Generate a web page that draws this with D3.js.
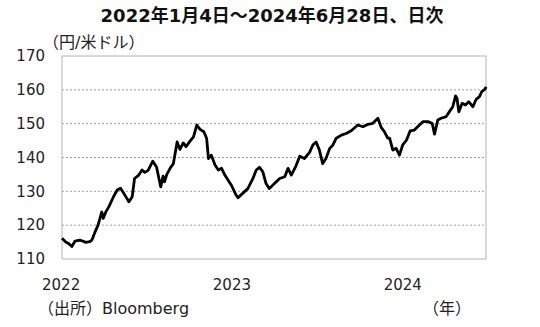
<!DOCTYPE html>
<html>
<head>
<meta charset="utf-8">
<script src="https://cdn.jsdelivr.net/npm/d3@7"></script>
<style>
  body { margin: 0; background: #fff; }
  svg text { font-family: "DejaVu Sans", "Noto Sans CJK JP", sans-serif; fill: #222; }
</style>
</head>
<body>
<svg id="chart" width="540" height="327"></svg>
<script>
// USD/JPY (roughly weekly)
const dates = [
  "2022-01-04", "2022-01-12", "2022-01-18", "2022-01-25", "2022-02-01", "2022-02-11",
  "2022-02-24", "2022-03-04", "2022-03-09", "2022-03-16", "2022-03-22", "2022-03-30",
  "2022-04-02", "2022-04-08", "2022-04-14", "2022-04-24", "2022-05-02", "2022-05-09",
  "2022-05-16", "2022-05-27", "2022-06-03", "2022-06-08", "2022-06-17", "2022-06-24",
  "2022-06-30", "2022-07-07", "2022-07-17", "2022-07-25", "2022-08-03", "2022-08-08",
  "2022-08-11", "2022-08-16", "2022-08-23", "2022-08-30", "2022-09-07", "2022-09-13",
  "2022-09-20", "2022-09-26", "2022-10-05", "2022-10-12", "2022-10-19", "2022-10-26",
  "2022-11-03", "2022-11-09", "2022-11-13", "2022-11-19", "2022-11-27", "2022-12-04",
  "2022-12-11", "2022-12-18", "2022-12-25", "2023-01-01", "2023-01-11", "2023-01-15",
  "2023-01-25", "2023-02-05", "2023-02-16", "2023-02-23", "2023-03-02", "2023-03-09",
  "2023-03-16", "2023-03-23", "2023-04-03", "2023-04-14", "2023-04-25", "2023-05-02",
  "2023-05-09", "2023-05-18", "2023-05-27", "2023-06-06", "2023-06-17", "2023-06-24",
  "2023-07-01", "2023-07-08", "2023-07-15", "2023-07-22", "2023-07-30", "2023-08-06",
  "2023-08-13", "2023-08-24", "2023-09-03", "2023-09-14", "2023-09-28", "2023-10-09",
  "2023-10-20", "2023-10-30", "2023-11-10", "2023-11-17", "2023-11-24", "2023-12-01",
  "2023-12-05", "2023-12-12", "2023-12-19", "2023-12-26", "2024-01-02", "2024-01-10",
  "2024-01-18", "2024-01-27", "2024-02-03", "2024-02-14", "2024-02-25", "2024-03-05",
  "2024-03-10", "2024-03-17", "2024-03-24", "2024-04-04", "2024-04-13", "2024-04-18",
  "2024-04-24", "2024-04-27", "2024-05-01", "2024-05-08", "2024-05-15", "2024-05-22",
  "2024-05-31", "2024-06-07", "2024-06-14", "2024-06-19", "2024-06-26", "2024-06-28"
];
const usdjpy = [
  116.1, 115.0, 114.6, 113.7, 115.3, 115.6,
  114.9, 115.1, 115.6, 118.1, 120.0, 123.9,
  122.0, 124.0, 125.4, 128.4, 130.4, 130.9,
  129.4, 126.9, 128.4, 133.8, 134.8, 136.3,
  135.6, 136.2, 138.9, 137.2, 131.3, 134.5,
  132.8, 135.0, 136.8, 138.2, 144.6, 142.4,
  144.3, 143.2, 144.9, 146.1, 149.6, 148.3,
  147.6, 145.7, 139.7, 140.7, 137.8, 136.3,
  136.8, 134.8, 133.3, 131.8, 128.9, 128.1,
  129.4, 130.8, 133.8, 136.3, 137.1, 135.8,
  132.3, 130.8, 132.3, 133.8, 134.3, 136.8,
  134.8, 137.2, 140.4, 139.7, 141.5, 143.7,
  144.6, 142.2, 138.2, 139.7, 142.7, 143.7,
  145.7, 146.6, 147.1, 147.9, 149.6, 149.1,
  149.8, 150.1, 151.6, 148.9, 147.6, 145.7,
  145.7, 142.2, 142.7, 140.7, 143.7, 145.1,
  147.9, 148.1, 149.1, 150.6, 150.6, 150.1,
  146.9, 151.1, 151.6, 152.1, 154.0, 155.0,
  158.2, 157.5, 153.5, 156.0, 155.5, 156.5,
  155.0, 157.2, 158.0, 159.5, 160.2, 160.9
];
const yTicks = [110, 120, 130, 140, 150, 160, 170];
const yearTicks = ["2022-01-01", "2023-01-01", "2024-01-01"];

const title = "2022年1月4日～2024年6月28日、日次";
const unitLabel = "（円/米ドル）";
const sourceLabel = "（出所）Bloomberg";
const yearLabel = "（年）";

const parse = d3.timeParse("%Y-%m-%d");
const data = dates.map((d, i) => ({date: parse(d), value: usdjpy[i]}));

const margin = {top: 56, right: 54, bottom: 68, left: 62};
const width = 540 - margin.left - margin.right;
const height = 327 - margin.top - margin.bottom;

const svg = d3.select("#chart");

svg.append("text")
  .attr("x", 272).attr("y", 22)
  .attr("text-anchor", "middle")
  .style("font-size", "18px").style("font-weight", "bold")
  .style("fill", "#111")
  .text(title);

const g = svg.append("g")
  .attr("transform", `translate(${margin.left},${margin.top})`);

let x = d3.scaleTime()
  .domain(d3.extent(data, d => d.date))
  .range([0, width]);
let y = d3.scaleLinear().domain([110, 170]).range([height, 0]);

// gridlines
g.selectAll("line.grid")
  .data(yTicks.slice(1, -1))
  .join("line")
  .attr("class", "grid")
  .attr("x1", 0).attr("x2", width)
  .attr("y1", d => y(d)).attr("y2", d => y(d))
  .style("stroke", "#a0a0a0")
  .style("stroke-dasharray", "2,2");

// plot frame
g.append("rect")
  .attr("width", width).attr("height", height)
  .style("fill", "none")
  .style("stroke", "#b4b4b4");

let yAxis = g.append("g")
  .call(d3.axisLeft(y).tickValues(yTicks).tickSize(0).tickPadding(17));
yAxis.select(".domain").remove();
yAxis.selectAll("text").style("font-size", "15px");

let xAxis = g.append("g")
  .attr("transform", `translate(0,${height})`)
  .call(d3.axisBottom(x).tickValues(yearTicks.map(parse))
    .tickFormat(d3.timeFormat("%Y")).tickSize(0).tickPadding(20));
xAxis.select(".domain").remove();
xAxis.selectAll("text").style("font-size", "15px");

let line = d3.line()
  .x(d => x(d.date))
  .y(d => y(d.value));

g.append("path")
  .datum(data)
  .attr("d", line)
  .style("fill", "none")
  .style("stroke", "#000")
  .style("stroke-width", 2.8)
  .style("stroke-linejoin", "round");

svg.append("text")
  .attr("x", 43).attr("y", 48)
  .style("font-size", "16px")
  .text(unitLabel);

svg.append("text")
  .attr("x", 38).attr("y", 314)
  .style("font-size", "16px")
  .text(sourceLabel);

svg.append("text")
  .attr("x", 423).attr("y", 314)
  .style("font-size", "16px")
  .text(yearLabel);
</script>
</body>
</html>
